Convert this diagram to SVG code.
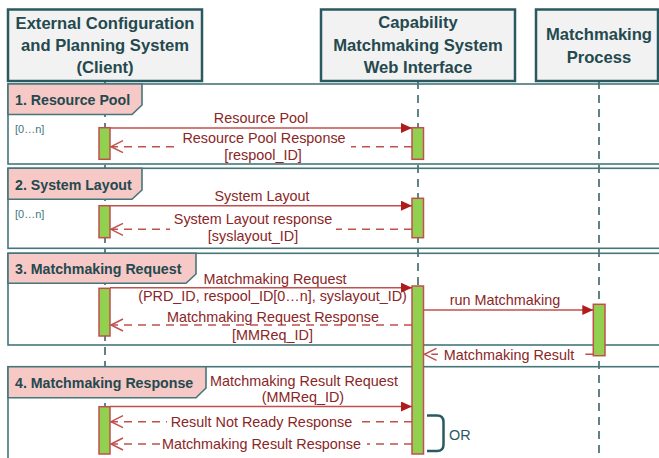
<svg xmlns="http://www.w3.org/2000/svg" width="659" height="458" viewBox="0 0 659 458">
<style>
.hdr{fill:#f2f2f2;stroke:#2a5a5f;stroke-width:2.5}
.ht{font-family:"Liberation Sans",Arial,sans-serif;font-weight:bold;font-size:16.6px;fill:#24494e;text-anchor:middle}
.life{stroke:#2e5b60;stroke-width:1.5;stroke-dasharray:8 6;fill:none}
.frame{fill:none;stroke:#457679;stroke-width:1.6}
.tab{fill:#f6c8c6;stroke:#457679;stroke-width:1.6}
.tt{font-family:"Liberation Sans",Arial,sans-serif;font-weight:bold;font-size:14.2px;fill:#24494e}
.rep{font-family:"Liberation Sans",Arial,sans-serif;font-size:11px;fill:#457679}
.act{fill:#92d050;stroke:#c0504d;stroke-width:1.5}
.msg{stroke:#c0504d;stroke-width:1.5;fill:none}
.dash{stroke-dasharray:8 6}
.ml{font-family:"Liberation Sans",Arial,sans-serif;font-size:14.4px;fill:#8a2626;text-anchor:middle}
.bg{fill:#ffffff}
.or{font-family:"Liberation Sans",Arial,sans-serif;font-size:14.4px;fill:#2a5a5f}
</style>
<defs>
<marker id="solid" markerUnits="userSpaceOnUse" markerWidth="12" markerHeight="12" refX="11" refY="5" orient="auto">
<path d="M0,0 L11,5 L0,10 Z" fill="#b01c1c"/>
</marker>
<marker id="open" markerUnits="userSpaceOnUse" markerWidth="16" markerHeight="16" refX="12.5" refY="7" orient="auto">
<path d="M0.5,1 L12.5,7 L0.5,13" fill="none" stroke="#c0504d" stroke-width="1.5"/>
</marker>
</defs>
<rect width="659" height="458" fill="#ffffff"/>

<g id="lifelines">
<line class="life" x1="105" y1="81" x2="105" y2="458"/>
<line class="life" x1="418" y1="81" x2="418" y2="458"/>
<line class="life" x1="599" y1="81" x2="599" y2="458"/>
</g>

<g id="frame1">
<rect class="frame" x="8" y="84" width="670" height="80"/>
<path class="tab" d="M8,84 H142 V105 L132,114.5 H8 Z"/>
<text class="tt" x="15" y="105">1. Resource Pool</text>
<text class="rep" x="15" y="133">[0…n]</text>
</g>
<g id="frame2">
<rect class="frame" x="8" y="168.3" width="670" height="80"/>
<path class="tab" d="M8,168.3 H142 V190 L132,199.3 H8 Z"/>
<text class="tt" x="15" y="190">2. System Layout</text>
<text class="rep" x="15" y="218">[0…n]</text>
</g>
<g id="frame3">
<rect class="frame" x="8" y="253.3" width="670" height="91.7"/>
<path class="tab" d="M8,253.3 H196 V274 L186,283.3 H8 Z"/>
<text class="tt" x="15" y="274.3">3. Matchmaking Request</text>
</g>
<g id="frame4">
<rect class="frame" x="8" y="366.7" width="670" height="110"/>
<path class="tab" d="M8,366.7 H206 V388 L196,397.7 H8 Z"/>
<text class="tt" x="15" y="387.5">4. Matchmaking Response</text>
</g>

<g id="participant-client">
<rect class="hdr" x="8" y="9.5" width="194" height="71.5"/>
<text class="ht" x="105" y="28.5">External Configuration</text>
<text class="ht" x="105" y="50.5">and Planning System</text>
<text class="ht" x="105" y="72.5">(Client)</text>
</g>
<g id="participant-web">
<rect class="hdr" x="321" y="9.5" width="194" height="71.5"/>
<text class="ht" x="418" y="28">Capability</text>
<text class="ht" x="418" y="50.5">Matchmaking System</text>
<text class="ht" x="418" y="73">Web Interface</text>
</g>
<g id="participant-process">
<rect class="hdr" x="536" y="9.5" width="122" height="71.5"/>
<text class="ht" x="599" y="40">Matchmaking</text>
<text class="ht" x="599" y="62.5">Process</text>
</g>

<g id="activations">
<rect class="act" x="99" y="127.7" width="11" height="31.6"/>
<rect class="act" x="412" y="127.7" width="11.5" height="31.6"/>
<rect class="act" x="99" y="205.7" width="11" height="32"/>
<rect class="act" x="412" y="198.3" width="11.5" height="39.4"/>
<rect class="act" x="99" y="288.3" width="11" height="47.7"/>
<rect class="act" x="412" y="286" width="11.5" height="168"/>
<rect class="act" x="593.3" y="304.3" width="11.7" height="51.4"/>
<rect class="act" x="99" y="406.7" width="11" height="47.3"/>
</g>

<g id="connectors">
<line class="msg" x1="110" y1="128" x2="412" y2="128" marker-end="url(#solid)"/>
<text class="ml" x="261" y="123.3">Resource Pool</text>

<line class="msg dash" x1="412" y1="146.7" x2="111" y2="146.7" marker-end="url(#open)"/>
<rect class="bg" x="179" y="131" width="172" height="18"/>
<text class="ml" x="264" y="142.7">Resource Pool Response</text>
<text class="ml" x="263" y="160">[respool_ID]</text>

<line class="msg" x1="110" y1="205.7" x2="412" y2="205.7" marker-end="url(#solid)"/>
<text class="ml" x="262" y="200.5">System Layout</text>

<line class="msg dash" x1="412" y1="229.3" x2="111" y2="229.3" marker-end="url(#open)"/>
<rect class="bg" x="170" y="211" width="166" height="20"/>
<text class="ml" x="253" y="223.5">System Layout response</text>
<text class="ml" x="253" y="240.5">[syslayout_ID]</text>

<line class="msg" x1="110" y1="287.7" x2="412" y2="287.7" marker-end="url(#solid)"/>
<text class="ml" x="275" y="284.3">Matchmaking Request</text>
<text class="ml" x="272.5" y="300.5">(PRD_ID, respool_ID[0…n], syslayout_ID)</text>

<line class="msg" x1="423.5" y1="310" x2="593.3" y2="310" marker-end="url(#solid)"/>
<text class="ml" x="505" y="305">run Matchmaking</text>

<line class="msg dash" x1="412" y1="325" x2="111" y2="325" marker-end="url(#open)"/>
<rect class="bg" x="163" y="309" width="220" height="15"/>
<text class="ml" x="273" y="321.7">Matchmaking Request Response</text>
<text class="ml" x="272.5" y="339.5">[MMReq_ID]</text>

<line class="msg dash" x1="593.3" y1="354.3" x2="424.5" y2="354.3" marker-end="url(#open)"/>
<rect class="bg" x="438" y="347" width="144" height="16"/>
<text class="ml" x="509" y="360">Matchmaking Result</text>

<line class="msg" x1="110" y1="406.5" x2="412" y2="406.5" marker-end="url(#solid)"/>
<text class="ml" x="304" y="386">Matchmaking Result Request</text>
<text class="ml" x="303" y="401.5">(MMReq_ID)</text>

<line class="msg dash" x1="412" y1="421.7" x2="111" y2="421.7" marker-end="url(#open)"/>
<rect class="bg" x="167" y="413" width="189" height="17"/>
<text class="ml" x="261.5" y="426.7">Result Not Ready Response</text>

<line class="msg dash" x1="412" y1="444" x2="111" y2="444" marker-end="url(#open)"/>
<rect class="bg" x="163" y="435" width="204" height="17"/>
<text class="ml" x="261.5" y="448.5">Matchmaking Result Response</text>
</g>

<g id="or-bracket">
<path d="M427,415.5 H437 Q443.5,415.5 443.5,422 V444.5 Q443.5,451 437,451 H427" fill="none" stroke="#2a5a5f" stroke-width="2.5"/>
<text class="or" x="449" y="440">OR</text>
</g>
</svg>
